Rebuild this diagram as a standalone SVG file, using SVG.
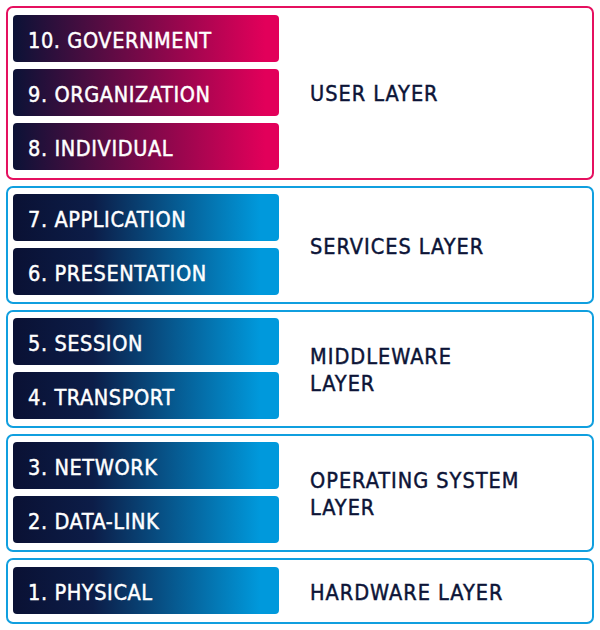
<svg xmlns="http://www.w3.org/2000/svg" width="600" height="630" viewBox="0 0 600 630">
<defs>
<linearGradient id="gPink" x1="0" y1="0" x2="1" y2="0">
<stop offset="0" stop-color="#0b1236"/>
<stop offset="0.95" stop-color="#e2005a"/>
<stop offset="1" stop-color="#e2005a"/>
</linearGradient>
<linearGradient id="gBlue" x1="0" y1="0" x2="1" y2="0">
<stop offset="0" stop-color="#0a1134"/>
<stop offset="0.3" stop-color="#0c1d48"/>
<stop offset="0.93" stop-color="#0099dc"/>
<stop offset="1" stop-color="#0099dc"/>
</linearGradient>
<style>
.box{fill:#ffffff;stroke-width:2}
.pink{stroke:#e5105f}
.blue{stroke:#109fdf}
.bar{rx:4;ry:4}
.bt{font-family:"DejaVu Sans Condensed","DejaVu Sans","Liberation Sans",sans-serif;font-stretch:condensed;font-size:21.5px;fill:#ffffff;stroke:#ffffff;stroke-width:0.45px;letter-spacing:0.6px}
.lt{font-family:"DejaVu Sans Condensed","DejaVu Sans","Liberation Sans",sans-serif;font-stretch:condensed;font-size:21.5px;fill:#0c1437;stroke:#0c1437;stroke-width:0.45px;letter-spacing:1px}
</style>
</defs>
<rect width="600" height="630" fill="#ffffff"/>
<g id="user-layer">
<rect class="box pink" x="7" y="7" width="586" height="172" rx="6"/>
<text class="lt" x="310" y="101">USER LAYER</text>
</g>
<g id="services-layer">
<rect class="box blue" x="7" y="187" width="586" height="116" rx="6"/>
<text class="lt" x="310" y="254">SERVICES LAYER</text>
</g>
<g id="middleware-layer">
<rect class="box blue" x="7" y="311" width="586" height="116" rx="6"/>
<text class="lt" x="310" y="364">MIDDLEWARE</text>
<text class="lt" x="310" y="391">LAYER</text>
</g>
<g id="os-layer">
<rect class="box blue" x="7" y="435" width="586" height="116" rx="6"/>
<text class="lt" x="310" y="488">OPERATING SYSTEM</text>
<text class="lt" x="310" y="515">LAYER</text>
</g>
<g id="hardware-layer">
<rect class="box blue" x="7" y="559" width="586" height="64" rx="6"/>
<text class="lt" x="310" y="600">HARDWARE LAYER</text>
</g>
<g id="layer-10"><rect class="bar" x="13" y="15" width="266" height="47" fill="url(#gPink)"/><text class="bt" x="28" y="47.5">10. GOVERNMENT</text></g>
<g id="layer-9"><rect class="bar" x="13" y="69" width="266" height="47" fill="url(#gPink)"/><text class="bt" x="28" y="101.5">9. ORGANIZATION</text></g>
<g id="layer-8"><rect class="bar" x="13" y="123" width="266" height="47" fill="url(#gPink)"/><text class="bt" x="28" y="155.5">8. INDIVIDUAL</text></g>
<g id="layer-7"><rect class="bar" x="13" y="194" width="266" height="47" fill="url(#gBlue)"/><text class="bt" x="28" y="226.5">7. APPLICATION</text></g>
<g id="layer-6"><rect class="bar" x="13" y="248" width="266" height="47" fill="url(#gBlue)"/><text class="bt" x="28" y="280.5">6. PRESENTATION</text></g>
<g id="layer-5"><rect class="bar" x="13" y="318" width="266" height="47" fill="url(#gBlue)"/><text class="bt" x="28" y="350.5">5. SESSION</text></g>
<g id="layer-4"><rect class="bar" x="13" y="372" width="266" height="47" fill="url(#gBlue)"/><text class="bt" x="28" y="404.5">4. TRANSPORT</text></g>
<g id="layer-3"><rect class="bar" x="13" y="442" width="266" height="47" fill="url(#gBlue)"/><text class="bt" x="28" y="474.5">3. NETWORK</text></g>
<g id="layer-2"><rect class="bar" x="13" y="496" width="266" height="47" fill="url(#gBlue)"/><text class="bt" x="28" y="528.5">2. DATA-LINK</text></g>
<g id="layer-1"><rect class="bar" x="13" y="567" width="266" height="47" fill="url(#gBlue)"/><text class="bt" x="28" y="599.5">1. PHYSICAL</text></g>
<g id="connectors"/>
</svg>
